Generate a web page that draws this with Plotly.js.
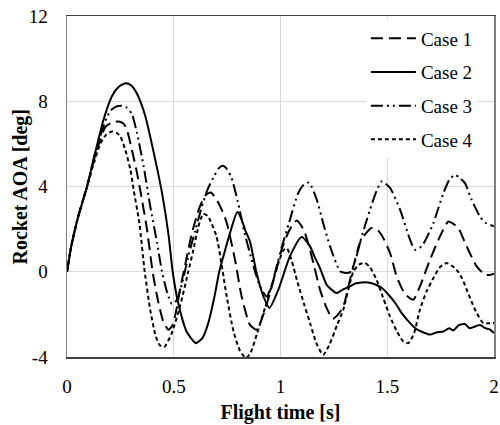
<!DOCTYPE html>
<html>
<head>
<meta charset="utf-8">
<script src="https://cdn.plot.ly/plotly-3.0.1.min.js"></script>
<style>html,body{margin:0;padding:0;background:#fff;}#chart{width:500px;height:425px;}</style>
</head>
<body>
<div id="chart"></div>
<script>
// Case 1 (long dash)
const case1T = [0,0.02,0.05,0.094,0.13,0.156,0.18,0.21,0.242,0.265,0.281,0.304,0.328,0.351,0.375,0.401,0.425,0.45,0.475,0.495,0.51,0.53,0.555,0.585,0.62,0.65,0.673,0.70,0.725,0.748,0.787,0.818,0.857,0.888,0.92,0.951,0.98,1.005,1.03,1.052,1.076,1.095,1.115,1.154,1.185,1.216,1.245,1.27,1.294,1.33,1.372,1.40,1.427,1.45,1.475,1.513,1.544,1.575,1.60,1.622,1.653,1.70,1.747,1.786,1.81,1.833,1.872,1.919,1.958,1.98,2.0];
const case1Y = [0,1.2,2.5,4.0,5.4,6.2,6.8,7.0,7.05,6.95,6.65,5.72,4.63,3.38,1.97,0,-1.3,-2.3,-2.72,-2.5,-1.9,-0.8,0.4,1.8,3.0,3.6,3.72,3.4,2.9,2.3,0.56,-1.16,-2.49,-2.72,-2.0,-1.0,0.1,1.03,1.7,2.13,2.4,2.2,1.81,0.41,-0.84,-1.7,-2.2,-2.0,-1.63,-0.2,1.35,1.8,2.05,2.0,1.7,0.88,-0.22,-0.9,-1.2,-1.31,-0.69,0.56,1.66,2.36,2.25,2.05,1.19,0.25,-0.14,-0.15,-0.09];
// Case 2 (solid)
const case2T = [0,0.02,0.05,0.094,0.13,0.17,0.211,0.245,0.276,0.30,0.328,0.367,0.406,0.445,0.476,0.495,0.521,0.56,0.604,0.635,0.662,0.69,0.713,0.74,0.763,0.798,0.82,0.834,0.857,0.888,0.92,0.948,0.99,1.044,1.099,1.138,1.16,1.185,1.216,1.24,1.263,1.29,1.325,1.35,1.38,1.41,1.435,1.474,1.513,1.54,1.568,1.607,1.638,1.67,1.70,1.73,1.763,1.79,1.81,1.835,1.864,1.885,1.903,1.934,1.96,1.98,2.0];
const case2Y = [0,1.2,2.5,4.0,5.5,7.1,8.25,8.7,8.85,8.75,8.35,7.3,5.6,3.7,1.7,0,-1.47,-2.8,-3.35,-3.1,-2.4,-1.2,0,1.0,1.8,2.8,2.4,1.97,1.42,-0.06,-1.16,-1.7,-0.84,0.72,1.63,1.19,0.7,0.17,-0.61,-0.85,-1.0,-0.85,-0.69,-0.55,-0.5,-0.5,-0.56,-0.75,-1.16,-1.5,-1.94,-2.41,-2.7,-2.85,-2.95,-2.85,-2.8,-2.65,-2.75,-2.5,-2.45,-2.65,-2.6,-2.5,-2.65,-2.7,-2.88];
// Case 3 (dash-dot-dot)
const case3T = [0,0.02,0.05,0.094,0.13,0.16,0.185,0.203,0.23,0.258,0.28,0.304,0.328,0.359,0.39,0.422,0.445,0.47,0.49,0.505,0.52,0.54,0.57,0.60,0.63,0.66,0.69,0.71,0.73,0.75,0.771,0.80,0.83,0.865,0.904,0.935,0.96,0.982,1.01,1.04,1.083,1.11,1.134,1.17,1.20,1.232,1.279,1.30,1.325,1.35,1.372,1.40,1.419,1.45,1.474,1.513,1.56,1.607,1.63,1.661,1.69,1.716,1.74,1.763,1.79,1.817,1.84,1.864,1.895,1.934,1.96,1.981,2.0];
const case3Y = [0,1.2,2.5,4.0,5.5,6.5,7.2,7.55,7.75,7.79,7.7,7.4,6.5,4.94,3.06,1.35,0,-1.0,-1.5,-1.45,-1.2,-0.5,0.8,1.9,3.0,3.9,4.5,4.85,4.97,4.8,4.4,3.3,1.9,0.56,-0.69,-1.16,-0.6,0.25,1.3,2.3,3.69,4.1,4.18,3.38,2.28,1.19,0.02,-0.05,-0.03,0.5,1.35,2.3,2.91,3.8,4.24,3.93,2.91,1.5,1.03,1.19,1.7,2.28,3.0,3.69,4.3,4.55,4.4,4.16,3.38,2.6,2.3,2.2,2.13];
// Case 4 (short dash)
const case4T = [0,0.02,0.05,0.094,0.12,0.156,0.185,0.213,0.235,0.25,0.273,0.297,0.312,0.339,0.364,0.39,0.415,0.435,0.455,0.49,0.529,0.568,0.592,0.615,0.638,0.66,0.70,0.748,0.78,0.81,0.838,0.86,0.89,0.93,0.96,0.99,1.013,1.03,1.05,1.08,1.11,1.138,1.17,1.20,1.23,1.265,1.294,1.341,1.37,1.396,1.42,1.45,1.48,1.513,1.545,1.575,1.599,1.625,1.653,1.685,1.716,1.745,1.778,1.80,1.825,1.85,1.872,1.895,1.919,1.95,1.975,2.0];
const case4Y = [0,1.2,2.5,4.0,4.9,6.0,6.45,6.58,6.5,6.35,5.72,4.79,3.85,2.28,0,-1.8,-3.0,-3.45,-3.53,-2.9,-1.63,0,1.03,2.1,2.72,2.6,1.66,-1.16,-2.8,-3.7,-4.05,-3.8,-2.9,-1.6,-0.6,0.4,1.0,1.1,0.6,-0.5,-1.5,-2.4,-3.4,-3.9,-3.4,-2.5,-1.78,0,0.35,0.41,0.2,-0.38,-1.2,-2.1,-2.8,-3.27,-3.35,-2.9,-1.78,-0.9,-0.3,0.2,0.41,0.3,0.09,-0.3,-0.84,-1.4,-1.94,-2.41,-2.42,-2.41];

const caseNames = ['Case 1','Case 2','Case 3','Case 4'];
const xTickVals = [0,0.5,1,1.5,2];
const xTickText = ['0','0.5','1','1.5','2'];
const yTickVals = [-4,0,4,8,12];
const yTickText = ['-4','0','4','8','12'];
const xTitle = 'Flight time [s]';
const yTitle = 'Rocket AOA [deg]';

const FONT = 'Liberation Serif, Times New Roman, serif';
const series = [[case1T,case1Y],[case2T,case2Y],[case3T,case3Y],[case4T,case4Y]];
const dashes = ['12px,6px','solid','12px,4px,2px,4px,2px,4px','4px,3px'];

const traces = series.map((s,i)=>({
  x: s[0], y: s[1], name: caseNames[i], type: 'scatter', mode: 'lines',
  legendgroup: 'g'+i,
  line: {color: '#000', width: 2, dash: dashes[i], shape: 'spline', smoothing: 0.6}
}));

const layout = {
  width: 500, height: 425,
  margin: {l: 67, r: 6, t: 16, b: 68},
  paper_bgcolor: '#fff', plot_bgcolor: '#fff',
  font: {family: FONT, size: 19, color: '#000'},
  showlegend: true,
  legend: {x: 0.70, y: 0.99, xanchor: 'left', yanchor: 'top', bgcolor: '#fff',
           font: {family: FONT, size: 19, color: '#000'}, traceorder: 'grouped', tracegroupgap: 6, itemwidth: 45},
  xaxis: {range: [0,2], tickvals: xTickVals, ticktext: xTickText, showgrid: true, gridcolor: '#d9d9d9',
          showline: true, linecolor: '#404040', linewidth: 1.5, mirror: true, zeroline: false, ticks: '',
          ticklabelstandoff: 12, tickfont: {family: FONT, size: 19, color: '#000'},
          title: {text: '<b>' + xTitle + '</b>', font: {family: FONT, size: 20, color: '#000'}, standoff: 8}},
  yaxis: {range: [-4,12], tickvals: yTickVals, ticktext: yTickText, showgrid: true, gridcolor: '#d9d9d9',
          showline: true, linecolor: '#7f7f7f', linewidth: 1.5, mirror: true, zeroline: false, ticks: '',
          ticklabelstandoff: 14, tickfont: {family: FONT, size: 19, color: '#000'},
          title: {text: ''}},
  annotations: [{text: '<b>' + yTitle + '</b>', xref: 'paper', yref: 'paper', x: -0.11, y: 0.5,
                 xanchor: 'center', yanchor: 'middle', textangle: -90, showarrow: false,
                 font: {family: FONT, size: 20, color: '#000'}}]
};
Plotly.newPlot('chart', traces, layout, {displayModeBar: false, staticPlot: true});
</script>
</body>
</html>
